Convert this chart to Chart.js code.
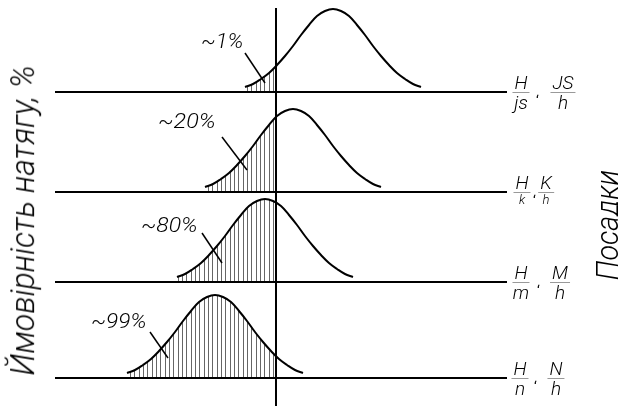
<!DOCTYPE html>
<html>
<head>
<meta charset="utf-8">
<script src="https://cdn.jsdelivr.net/npm/chart.js@4.4.1/dist/chart.umd.min.js"></script>
<style>
body { margin: 0; background: #fff; }
#wrap { position: relative; width: 618px; height: 406px; overflow: hidden; background: #fff; }
.row { position: absolute; left: 0; width: 618px; }
.t { position: absolute; font-family: Roboto, "DejaVu Sans", sans-serif; font-weight: 300;
     font-style: italic; color: #000; white-space: nowrap; line-height: 1; }
.rot { transform-origin: 50% 50%; }
.pct { transform-origin: 0 50%; }
.frac { position: absolute; display: flex; flex-direction: column; align-items: center; transform: translateX(-50%);
        font-family: Roboto, "DejaVu Sans", sans-serif; font-weight: 300; font-style: italic; }
.frac .num { font-size: 19px; line-height: 18px; height: 18px; padding: 0 2px; border-bottom: 1px solid #999; }
.frac .den { font-size: 19px; line-height: 19px; }
.frac .den.small { font-size: 13px; line-height: 14px; }
.comma { position: absolute; font-family: Roboto, "DejaVu Sans", sans-serif; font-size: 14px; line-height: 1; }
</style>
</head>
<body>
<div id="wrap"></div>
<script>
// curve profile (height above baseline) read at offsets from the peak
const offsets = [-88, -80, -72, -64, -56, -48, -40, -32, -24, -16, -8, 0, 8, 16, 24, 32, 40, 48, 56, 64, 72, 80, 88];
const profile = [5, 8, 13, 19, 27, 36, 46, 57, 67, 76, 81, 83, 81, 76, 67, 57, 46, 36, 27, 19, 13, 8, 5];
// peak position of each distribution relative to the zero line
const peaks = [57, 17, -11, -61];
const shares = ['~1%', '~20%', '~80%', '~99%'];
// leader lines (x, height) for the percent labels
const leaderX = [[-31, -11], [-54, -29], [-74, -54], [-126, -108]];
const leaderY = [[39, 9], [55, 22], [49, 19], [46, 20]];
// fits
const holes = ['H', 'H', 'H', 'H'];
const holeDev = ['js', 'k', 'm', 'n'];
const shafts = ['JS', 'K', 'M', 'N'];
const shaftDev = ['h', 'h', 'h', 'h'];
const yTitle = 'Ймовірність натягу, %';
const rTitle = 'Посадки';

// layout of the four strips
const rows = [
  { top: 0,   h: 95,  pt: 8, pb: 3,  from: 8 },
  { top: 95,  h: 99,  pt: 0, pb: 2,  from: 0 },
  { top: 194, h: 90,  pt: 0, pb: 2,  from: 0 },
  { top: 284, h: 122, pt: 0, pb: 28, from: 0 }
];
const labelPos = [[201, 31, 42], [158, 111, 58], [141, 215, 57], [91, 311, 56]];
const fracPos = [[521, 563, 536], [522, 546, 533], [521, 560, 537], [520, 556, 534]];

const wrap = document.getElementById('wrap');

function hatchPattern() {
  const pc = document.createElement('canvas');
  pc.width = 13; pc.height = 4;
  const p = pc.getContext('2d');
  p.fillStyle = '#666';
  [0, 4, 9].forEach(x => p.fillRect(x, 0, 1, 4));
  return p.createPattern(pc, 'repeat');
}

// keep the fill only left of the zero line
const hatchClip = {
  id: 'hatchClip',
  beforeDraw(chart) {
    const { ctx, chartArea: a } = chart;
    const x0 = chart.scales.x.getPixelForValue(0);
    ctx.save();
    ctx.beginPath();
    ctx.rect(a.left, 0, x0 - a.left, chart.height);
    ctx.clip();
  },
  beforeDatasetsDraw(chart) {
    chart.ctx.restore();
  }
};

const guides = {
  id: 'guides',
  afterDatasetsDraw(chart, args, opts) {
    const { ctx, chartArea: a, scales: { x, y } } = chart;
    ctx.save();
    ctx.strokeStyle = '#000';
    ctx.lineWidth = 2;
    const y0 = Math.round(y.getPixelForValue(0));
    ctx.beginPath();
    ctx.moveTo(a.left, y0);
    ctx.lineTo(a.right, y0);
    ctx.stroke();
    const x0 = Math.round(x.getPixelForValue(0));
    ctx.beginPath();
    ctx.moveTo(x0, opts.from);
    ctx.lineTo(x0, chart.height);
    ctx.stroke();
    ctx.restore();
  }
};

rows.forEach((r, i) => {
  const box = document.createElement('div');
  box.className = 'row';
  box.style.top = r.top + 'px';
  box.style.height = r.h + 'px';
  const cv = document.createElement('canvas');
  cv.width = 618; cv.height = r.h;
  box.appendChild(cv);
  wrap.appendChild(box);

  const pts = offsets.map((o, k) => ({ x: peaks[i] + o, y: profile[k] }));
  const leader = leaderX[i].map((v, k) => ({ x: v, y: leaderY[i][k] }));
  const ctx = cv.getContext('2d');

  new Chart(ctx, {
    type: 'line',
    data: {
      datasets: [
        { data: pts, borderWidth: 0, borderColor: 'transparent', backgroundColor: hatchPattern(), fill: 'origin', pointRadius: 0, tension: 0.4 },
        { data: pts, borderColor: '#000', borderWidth: 2, fill: false, pointRadius: 0, tension: 0.4 },
        { data: leader, borderColor: '#000', borderWidth: 1.5, fill: false, pointRadius: 0, tension: 0 }
      ]
    },
    options: {
      responsive: false,
      animation: false,
      events: [],
      layout: { padding: { left: 55, right: 111, top: r.pt, bottom: r.pb } },
      scales: {
        x: { type: 'linear', min: -221, max: 231, display: false },
        y: { min: 0, max: r.h - r.pt - r.pb, display: false }
      },
      plugins: {
        legend: { display: false },
        tooltip: { enabled: false },
        filler: { drawTime: 'beforeDatasetsDraw' },
        guides: { from: r.from }
      }
    },
    plugins: [hatchClip, guides]
  });

  // percent label
  const lab = document.createElement('div');
  lab.className = 't pct';
  lab.style.fontSize = '21px';
  lab.style.left = labelPos[i][0] + 'px';
  lab.style.top = labelPos[i][1] + 'px';
  lab.textContent = shares[i];
  wrap.appendChild(lab);
  lab.style.transform = 'scaleX(' + (labelPos[i][2] / lab.offsetWidth).toFixed(3) + ')';

  // fit label
  const base = r.top + r.h - r.pb;
  const mk = (num, den, cx, small) => {
    const f = document.createElement('div');
    f.className = 'frac';
    f.style.left = cx + 'px';
    f.style.top = (base - 18) + 'px';
    f.innerHTML = '<span class="num">' + num + '</span><span class="den' + (small ? ' small' : '') + '">' + den + '</span>';
    wrap.appendChild(f);
  };
  mk(holes[i], holeDev[i], fracPos[i][0], i === 1);
  mk(shafts[i], shaftDev[i], fracPos[i][1], i === 1);
  const c = document.createElement('div');
  c.className = 'comma';
  c.style.left = fracPos[i][2] + 'px';
  c.style.top = (base + 2) + 'px';
  c.textContent = '‘';
  wrap.appendChild(c);
});

// rotated titles, stretched to the reference length
function rotated(text, size, cx, cy, len) {
  const d = document.createElement('div');
  d.className = 't rot';
  d.style.fontSize = size + 'px';
  d.textContent = text;
  wrap.appendChild(d);
  const w = d.offsetWidth, h = d.offsetHeight;
  d.style.left = (cx - w / 2) + 'px';
  d.style.top = (cy - h / 2) + 'px';
  d.style.transform = 'rotate(-90deg) scaleX(' + (len / w).toFixed(3) + ')';
}
rotated(yTitle, 33, 22, 220, 310);
rotated(rTitle, 32, 606, 225, 110);
</script>
</body>
</html>
